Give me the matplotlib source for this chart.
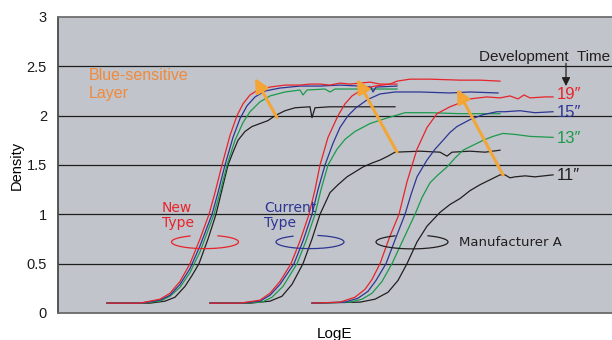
import numpy as np
import matplotlib
matplotlib.use("Agg")
import matplotlib.pyplot as plt

plt.rcParams['font.family'] = ['Liberation Sans', 'DejaVu Sans']

# ---- characteristic curves (LogE, density) ----
# New Type
new_19_x = [1.07, 1.40, 1.60, 1.70, 1.80, 1.90, 2.00, 2.09, 2.15, 2.22, 2.30, 2.37, 2.43, 2.50, 2.58, 2.70, 2.85, 3.00, 3.10, 3.20, 3.30, 3.40, 3.50, 3.60, 3.70, 3.80, 3.97]
new_19_d = [0.10, 0.10, 0.14, 0.20, 0.32, 0.50, 0.75, 1.00, 1.22, 1.50, 1.80, 2.00, 2.12, 2.21, 2.26, 2.29, 2.31, 2.31, 2.32, 2.32, 2.31, 2.33, 2.32, 2.33, 2.34, 2.32, 2.32]
new_15_x = [1.07, 1.40, 1.60, 1.70, 1.80, 1.90, 2.00, 2.12, 2.18, 2.25, 2.33, 2.40, 2.47, 2.55, 2.65, 2.80, 3.00, 3.20, 3.40, 3.60, 3.71, 3.73, 3.76, 3.97]
new_15_d = [0.10, 0.10, 0.13, 0.18, 0.29, 0.45, 0.68, 1.00, 1.22, 1.50, 1.78, 1.97, 2.10, 2.19, 2.25, 2.28, 2.30, 2.30, 2.31, 2.30, 2.29, 2.24, 2.29, 2.30]
new_13_x = [1.07, 1.40, 1.60, 1.70, 1.80, 1.90, 2.00, 2.14, 2.20, 2.27, 2.35, 2.43, 2.50, 2.60, 2.70, 2.85, 3.00, 3.03, 3.07, 3.25, 3.30, 3.35, 3.60, 3.97]
new_13_d = [0.10, 0.10, 0.12, 0.17, 0.26, 0.41, 0.62, 1.00, 1.22, 1.50, 1.75, 1.93, 2.04, 2.14, 2.20, 2.24, 2.26, 2.21, 2.26, 2.27, 2.24, 2.27, 2.27, 2.27]
new_11_x = [1.07, 1.50, 1.65, 1.75, 1.85, 1.92, 1.99, 2.08, 2.16, 2.22, 2.28, 2.33, 2.38, 2.45, 2.52, 2.60, 2.68, 2.75, 2.85, 2.95, 3.10, 3.12, 3.15, 3.30, 3.60, 3.95]
new_11_d = [0.10, 0.10, 0.12, 0.16, 0.27, 0.38, 0.50, 0.75, 1.00, 1.25, 1.50, 1.63, 1.75, 1.84, 1.89, 1.92, 1.95, 2.00, 2.05, 2.08, 2.09, 1.98, 2.08, 2.09, 2.09, 2.09]

# Current Type
cur_19_x = [2.10, 2.40, 2.60, 2.70, 2.80, 2.91, 3.00, 3.09, 3.15, 3.20, 3.28, 3.38, 3.45, 3.52, 3.63, 3.75, 3.90, 3.97, 4.10, 4.30, 4.60, 4.80, 5.00]
cur_19_d = [0.10, 0.10, 0.13, 0.20, 0.32, 0.50, 0.73, 1.00, 1.25, 1.50, 1.78, 2.00, 2.12, 2.20, 2.27, 2.30, 2.32, 2.35, 2.37, 2.37, 2.36, 2.36, 2.35]
cur_15_x = [2.10, 2.40, 2.60, 2.70, 2.80, 2.94, 3.03, 3.12, 3.18, 3.25, 3.33, 3.40, 3.48, 3.56, 3.67, 3.80, 3.95, 4.20, 4.50, 4.70, 4.98]
cur_15_d = [0.10, 0.10, 0.12, 0.18, 0.29, 0.50, 0.73, 1.00, 1.25, 1.50, 1.72, 1.88, 2.00, 2.08, 2.16, 2.22, 2.24, 2.24, 2.23, 2.24, 2.23]
cur_13_x = [2.10, 2.40, 2.62, 2.72, 2.83, 2.97, 3.06, 3.15, 3.21, 3.28, 3.37, 3.45, 3.55, 3.70, 3.85, 3.95, 4.05, 4.30, 4.60, 4.80, 5.00]
cur_13_d = [0.10, 0.10, 0.11, 0.16, 0.27, 0.50, 0.73, 1.00, 1.25, 1.50, 1.66, 1.76, 1.84, 1.92, 1.97, 2.00, 2.03, 2.03, 2.02, 2.02, 2.02]
cur_11_x = [2.10, 2.50, 2.70, 2.82, 2.92, 3.03, 3.12, 3.20, 3.30, 3.38, 3.47, 3.55, 3.63, 3.72, 3.80, 3.88, 3.95, 4.20, 4.40, 4.47, 4.52, 4.70, 4.85, 5.00]
cur_11_d = [0.10, 0.10, 0.12, 0.17, 0.29, 0.50, 0.75, 1.00, 1.22, 1.30, 1.38, 1.43, 1.48, 1.52, 1.55, 1.59, 1.63, 1.64, 1.63, 1.59, 1.63, 1.64, 1.63, 1.65]

# Manufacturer A
mfa_19_x = [3.12, 3.40, 3.55, 3.65, 3.72, 3.80, 3.90, 3.99, 4.07, 4.17, 4.27, 4.37, 4.50, 4.60, 4.70, 4.87, 5.00, 5.10, 5.18, 5.24, 5.30, 5.45, 5.53]
mfa_19_d = [0.10, 0.11, 0.16, 0.24, 0.34, 0.50, 0.78, 1.00, 1.33, 1.66, 1.88, 2.02, 2.09, 2.13, 2.17, 2.19, 2.18, 2.20, 2.17, 2.21, 2.18, 2.19, 2.19]
mfa_15_x = [3.12, 3.45, 3.58, 3.68, 3.76, 3.86, 3.95, 4.05, 4.11, 4.17, 4.27, 4.35, 4.43, 4.50, 4.57, 4.70, 4.83, 4.97, 5.05, 5.20, 5.35, 5.53]
mfa_15_d = [0.10, 0.11, 0.15, 0.22, 0.33, 0.50, 0.74, 1.00, 1.20, 1.38, 1.55, 1.66, 1.75, 1.83, 1.89, 1.96, 2.01, 2.04, 2.04, 2.05, 2.03, 2.04]
mfa_13_x = [3.12, 3.50, 3.62, 3.72, 3.82, 3.92, 4.03, 4.15, 4.22, 4.30, 4.38, 4.47, 4.55, 4.63, 4.73, 4.83, 4.93, 5.03, 5.15, 5.30, 5.53]
mfa_13_d = [0.10, 0.11, 0.14, 0.20, 0.32, 0.50, 0.74, 1.00, 1.17, 1.32, 1.40, 1.48, 1.57, 1.65, 1.70, 1.75, 1.79, 1.82, 1.81, 1.79, 1.78]
mfa_11_x = [3.12, 3.60, 3.75, 3.88, 3.98, 4.07, 4.17, 4.27, 4.40, 4.50, 4.60, 4.70, 4.80, 4.90, 5.00, 5.05, 5.10, 5.15, 5.25, 5.35, 5.53]
mfa_11_d = [0.10, 0.11, 0.14, 0.21, 0.33, 0.50, 0.72, 0.88, 1.02, 1.10, 1.16, 1.24, 1.30, 1.35, 1.40, 1.40, 1.37, 1.38, 1.39, 1.38, 1.40]

y_ticks = [0, 0.5, 1, 1.5, 2, 2.5, 3]
y_tick_labels = ["0", "0.5", "1", "1.5", "2", "2.5", "3"]
time_labels = ["19\u2033", "15\u2033", "13\u2033", "11\u2033"]
time_label_d = [2.21, 2.03, 1.77, 1.39]

RED, BLUE, GREEN, BLACK = '#e8232b', '#2d3594', '#1b9a4c', '#231f20'
ORANGE = '#f3a536'
time_colors = [RED, BLUE, GREEN, BLACK]

fig = plt.figure(figsize=(6.12, 3.40), dpi=100)
ax = fig.add_axes([58 / 612, 27 / 340, 1 - 58 / 612, 296 / 340])
ax.set_facecolor('#c1c4ca')
ax.set_xlim(0.58, 6.12)
ax.set_ylim(0, 3)

for v in y_ticks[1:-1]:
    ax.axhline(v, color='#1e1e1e', lw=0.9, zorder=1)

groups = [
    [(new_19_x, new_19_d), (new_15_x, new_15_d), (new_13_x, new_13_d), (new_11_x, new_11_d)],
    [(cur_19_x, cur_19_d), (cur_15_x, cur_15_d), (cur_13_x, cur_13_d), (cur_11_x, cur_11_d)],
    [(mfa_19_x, mfa_19_d), (mfa_15_x, mfa_15_d), (mfa_13_x, mfa_13_d), (mfa_11_x, mfa_11_d)],
]
for group in groups:
    for (xs, ds), c in zip(reversed(group), reversed(time_colors)):
        ax.plot(xs, ds, color=c, lw=0.9, zorder=3)


def lasso(cx, cy, w, h, gap_left, gap_right, color):
    """Ellipse around a bundle of curves, open at the top where it passes behind."""
    a, b = w / 2, h / 2
    t_start = np.arccos((gap_left - cx) / a)
    t_end = np.arccos((gap_right - cx) / a) + 2 * np.pi
    t = np.linspace(t_start, t_end, 200)
    ax.plot(cx + a * np.cos(t), cy + b * np.sin(t), color=color, lw=0.9, zorder=4)


lasso(2.05, 0.72, 0.67, 0.135, 1.90, 2.18, RED)
lasso(3.10, 0.72, 0.68, 0.135, 2.93, 3.18, BLUE)
lasso(4.12, 0.72, 0.72, 0.14, 3.95, 4.28, BLACK)

# orange arrows showing the shift with development time
for tail, head in [((2.77, 1.98), (2.55, 2.38)),
                   ((3.97, 1.63), (3.57, 2.37)),
                   ((5.03, 1.40), (4.57, 2.27))]:
    ax.annotate('', xy=head, xytext=tail,
                arrowprops=dict(arrowstyle='-|>,head_length=0.8,head_width=0.4',
                                color=ORANGE, lw=2.2, shrinkA=0, shrinkB=0),
                zorder=5)

narrow = ['Liberation Sans Narrow', 'DejaVu Sans']
ax.text(0.89, 2.48, 'Blue-sensitive\nLayer', color='#f08a3c', fontsize=11.5,
        ha='left', va='top', linespacing=1.2)
ax.text(1.62, 1.14, 'New\nType', color=RED, fontsize=10, ha='left', va='top',
        linespacing=1.15, family=narrow)
ax.text(2.64, 1.14, 'Current\nType', color=BLUE, fontsize=10, ha='left', va='top',
        linespacing=1.15, family=narrow)
ax.text(4.59, 0.71, 'Manufacturer A', color=BLACK, fontsize=9.5, ha='left', va='center',
        family=narrow)

ax.text(6.10, 2.59, 'Development  Time', color=BLACK, fontsize=11, ha='right', va='center')
ax.annotate('', xy=(5.66, 2.30), xytext=(5.66, 2.53),
            arrowprops=dict(arrowstyle='-|>,head_length=0.5,head_width=0.25',
                            color=BLACK, lw=0.9, shrinkA=0, shrinkB=0))
for lab, d, c in zip(time_labels, time_label_d, time_colors):
    ax.text(5.57, d, lab, color=c, fontsize=12, ha='left', va='center')

ax.set_yticks(y_ticks)
ax.set_yticklabels(y_tick_labels)
ax.set_xticks([])
ax.tick_params(axis='y', length=0, pad=8, labelsize=10.5, labelcolor='#1a1a1a')
ax.set_ylabel('Density', fontsize=10.5, labelpad=2)
ax.set_xlabel('LogE', fontsize=11, labelpad=10)

ax.spines['right'].set_visible(False)
ax.spines['left'].set_color('#4a4a4a')
ax.spines['top'].set_color('#6e6e6e')
ax.spines['bottom'].set_color('#6a6a6a')
for s in ('left', 'top', 'bottom'):
    ax.spines[s].set_linewidth(1.3)

fig.savefig('out.png', dpi=100, facecolor='white')
